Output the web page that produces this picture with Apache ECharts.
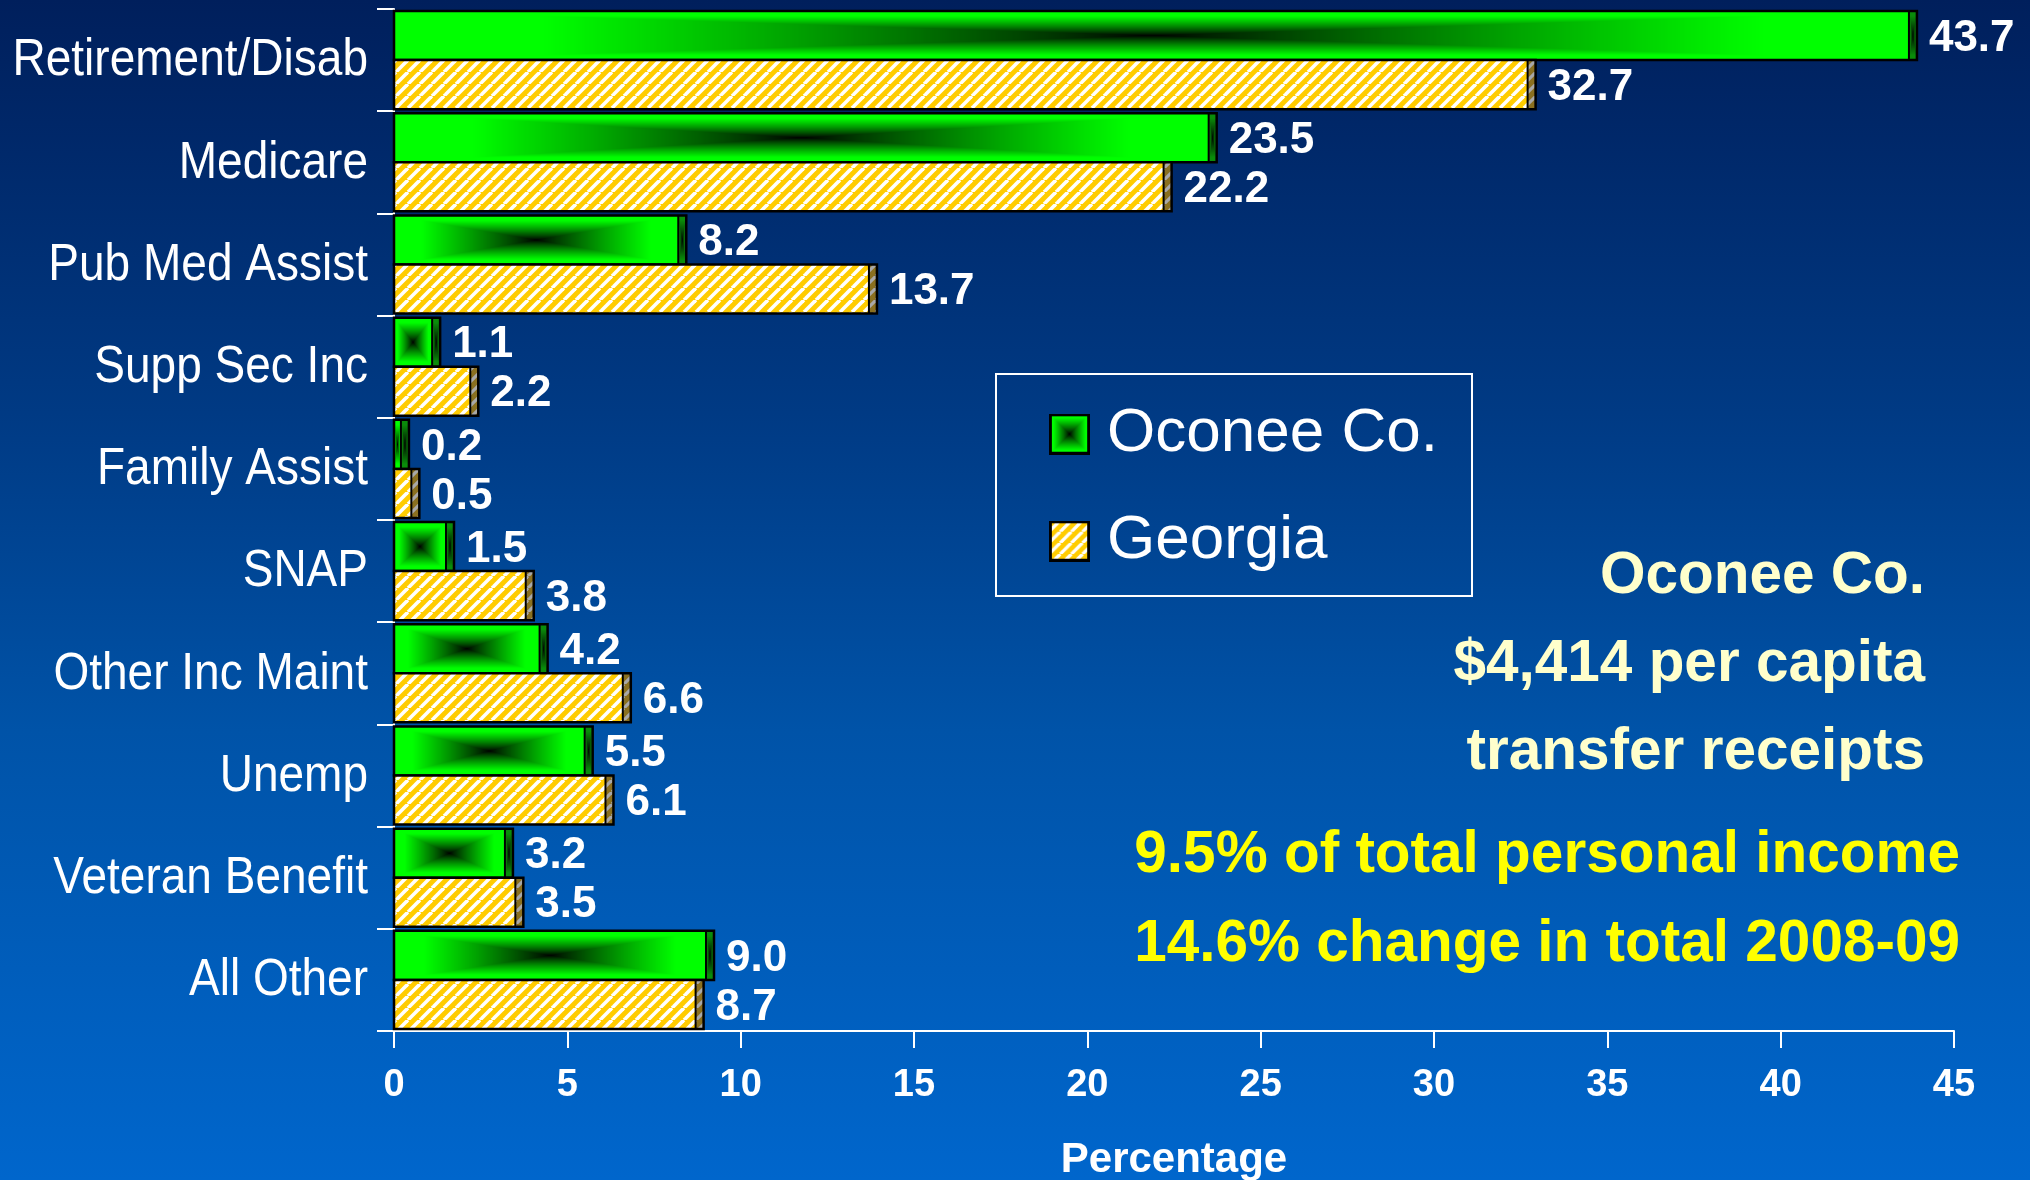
<!DOCTYPE html>
<html><head><meta charset="utf-8">
<script src="https://cdn.jsdelivr.net/npm/echarts@6/dist/echarts.min.js"></script>
<style>
html,body{margin:0;padding:0;width:2030px;height:1180px;overflow:hidden;
background:linear-gradient(to bottom,#001f5c 0%,#003a84 35%,#0053a8 62%,#0066cc 100%);}
#c{width:2030px;height:1180px;}
</style>
</head><body><div id="c"></div>
<script>
// ---- data ----
const categories = ['Retirement/Disab','Medicare','Pub Med Assist','Supp Sec Inc','Family Assist','SNAP','Other Inc Maint','Unemp','Veteran Benefit','All Other'];
const oconee = [43.7, 23.5, 8.2, 1.1, 0.2, 1.5, 4.2, 5.5, 3.2, 9.0];
const georgia = [32.7, 22.2, 13.7, 2.2, 0.5, 3.8, 6.6, 6.1, 3.5, 8.7];
const seriesNames = ['Oconee Co.', 'Georgia'];
const xAxisName = 'Percentage';
const xMin = 0, xMax = 45, xInterval = 5;
const noteLines = ['Oconee Co.', '$4,414 per capita', 'transfer receipts'];
const highlightLines = ['9.5% of total personal income', '14.6% change in total 2008-09'];

// ---- textures ----
function rectGradCanvas(W, H, r, g, b) {
  const c = document.createElement('canvas'); c.width = W; c.height = H;
  const ctx = c.getContext('2d');
  const img = ctx.createImageData(W, H);
  const cx = (W - 1) / 2, cy = (H - 1) / 2;
  for (let y = 0; y < H; y++) for (let x = 0; x < W; x++) {
    const t = Math.max(Math.abs(x - cx) / cx, Math.abs(y - cy) / cy);
    const k = Math.min(1, Math.pow(t, 0.85) * 1.2);
    const i = (y * W + x) * 4;
    img.data[i] = r * k; img.data[i + 1] = g * k; img.data[i + 2] = b * k; img.data[i + 3] = 255;
  }
  ctx.putImageData(img, 0, 0);
  return c;
}
function hatchCanvas(base, stripe, s, lw) {
  const c = document.createElement('canvas'); c.width = s; c.height = s;
  const ctx = c.getContext('2d');
  ctx.fillStyle = base; ctx.fillRect(0, 0, s, s);
  ctx.strokeStyle = stripe; ctx.lineWidth = lw;
  for (const k of [-s, 0, s]) { ctx.beginPath(); ctx.moveTo(k, s); ctx.lineTo(k + s, 0); ctx.stroke(); }
  return c;
}
const greenTex = rectGradCanvas(400, 80, 0, 255, 0);
const greenSideTex = rectGradCanvas(20, 80, 10, 140, 10);
const goldHatch = hatchCanvas('#ffcc00', '#ffffff', 12, 3.6);
const goldSideHatch = hatchCanvas('#8a7020', '#a8a8a8', 12, 3.2);

function iconURL(kind) {
  const S = 44, c = document.createElement('canvas'); c.width = S; c.height = S;
  const ctx = c.getContext('2d');
  if (kind === 0) ctx.drawImage(rectGradCanvas(S, S, 0, 255, 0), 0, 0);
  else { ctx.fillStyle = ctx.createPattern(hatchCanvas('#ffcc00', '#ffffff', 12, 3.6), 'repeat'); ctx.fillRect(0, 0, S, S); }
  ctx.strokeStyle = '#000'; ctx.lineWidth = 3; ctx.strokeRect(1.5, 1.5, S - 3, S - 3);
  return 'image://' + c.toDataURL();
}

const boldFont = '"Liberation Sans", Arial, sans-serif';

// ---- bar renderer ----
function makeRender(kind) {
  return function (params, api) {
    const v = api.value(0), ci = api.value(1);
    const end = api.coord([v, ci]);
    const start = api.coord([0, ci]);
    const band = api.size([0, 1])[1];
    const h = band * 0.48;
    const y0 = kind === 0 ? end[1] - h : end[1];
    const x0 = start[0], w = end[0] - start[0];
    const depth = 8;
    const children = [];
    if (kind === 0) {
      children.push({ type: 'image', style: { image: greenTex, x: x0, y: y0, width: w, height: h } });
      children.push({ type: 'image', style: { image: greenSideTex, x: x0 + w, y: y0, width: depth, height: h } });
    } else {
      children.push({ type: 'rect', shape: { x: x0, y: y0, width: w, height: h }, style: { fill: { image: goldHatch, repeat: 'repeat' } } });
      children.push({ type: 'rect', shape: { x: x0 + w, y: y0, width: depth, height: h }, style: { fill: { image: goldSideHatch, repeat: 'repeat' } } });
    }
    children.push({ type: 'rect', shape: { x: x0, y: y0, width: w + depth, height: h }, style: { fill: null, stroke: '#000', lineWidth: 2.5 } });
    children.push({ type: 'line', shape: { x1: x0 + w, y1: y0, x2: x0 + w, y2: y0 + h }, style: { stroke: '#000', lineWidth: 2 } });
    children.push({ type: 'text', style: {
      text: v.toFixed(1), x: x0 + w + depth + 12, y: y0 + h / 2 + 3,
      fill: '#ffffff', font: 'bold 44px ' + boldFont,
      align: 'left', verticalAlign: 'middle' } });
    return { type: 'group', children };
  };
}

// category labels, drawn condensed (no narrow font installed)
function renderCategory(params, api) {
  const ci = api.value(1);
  const p = api.coord([0, ci]);
  return { type: 'text', x: p[0] - 26, y: p[1] + 1, scaleX: 0.885, silent: true,
    style: { text: categories[ci], fill: '#ffffff', font: '52px ' + boldFont, align: 'right', verticalAlign: 'middle' } };
}

const chart = echarts.init(document.getElementById('c'), null, { renderer: 'canvas' });
chart.setOption({
  backgroundColor: 'transparent',
  animation: false,
  grid: { left: 394, right: 76, top: 9, bottom: 149, containLabel: false, outerBoundsMode: 'none' },
  xAxis: {
    type: 'value', min: xMin, max: xMax, interval: xInterval,
    name: xAxisName, nameLocation: 'middle', nameGap: 108,
    nameTextStyle: { color: '#fff', fontSize: 42, fontWeight: 'bold', fontFamily: boldFont },
    axisLine: { show: true, lineStyle: { color: '#fff', width: 2 } },
    axisTick: { show: true, length: 17, lineStyle: { color: '#fff', width: 2 } },
    axisLabel: { color: '#fff', fontSize: 38, fontWeight: 'bold', fontFamily: boldFont, margin: 36 },
    splitLine: { show: false }
  },
  yAxis: {
    type: 'category', data: categories, inverse: true,
    axisLine: { show: true, lineStyle: { color: '#fff', width: 2 } },
    axisTick: { show: true, length: 17, lineStyle: { color: '#fff', width: 2 } },
    axisLabel: { show: false }
  },
  legend: {
    orient: 'vertical', left: 1044, top: 394, itemWidth: 41, itemHeight: 41, itemGap: 37,
    selectedMode: false,
    textStyle: { color: '#fff', fontSize: 62, lineHeight: 70, fontFamily: boldFont, padding: [0, 0, 0, 12] },
    data: [{ name: seriesNames[0], icon: iconURL(0) }, { name: seriesNames[1], icon: iconURL(1) }]
  },
  graphic: [
    { type: 'rect', shape: { x: 996, y: 374, width: 476, height: 222 }, style: { fill: null, stroke: '#ffffff', lineWidth: 2 }, z: 10 },
    ...noteLines.map((t, i) => ({ type: 'text', x: 1925, y: 577 + i * 88, z: 10,
      style: { text: t, fill: '#ffffcc', font: 'bold 58.5px ' + boldFont, align: 'right', verticalAlign: 'middle' } })),
    ...highlightLines.map((t, i) => ({ type: 'text', x: 1960, y: 856 + i * 89, z: 10,
      style: { text: t, fill: '#ffff00', font: 'bold 58.5px ' + boldFont, align: 'right', verticalAlign: 'middle' } }))
  ],
  series: [
    { name: seriesNames[0], type: 'custom', renderItem: makeRender(0), encode: { x: 0, y: 1 },
      data: oconee.map((v, i) => [v, i]), z: 3 },
    { name: seriesNames[1], type: 'custom', renderItem: makeRender(1), encode: { x: 0, y: 1 },
      data: georgia.map((v, i) => [v, i]), z: 3 },
    { name: 'categoryLabels', type: 'custom', renderItem: renderCategory, encode: { x: 0, y: 1 },
      data: categories.map((c, i) => [0, i]), silent: true, z: 4 }
  ]
});
</script>
</body></html>
